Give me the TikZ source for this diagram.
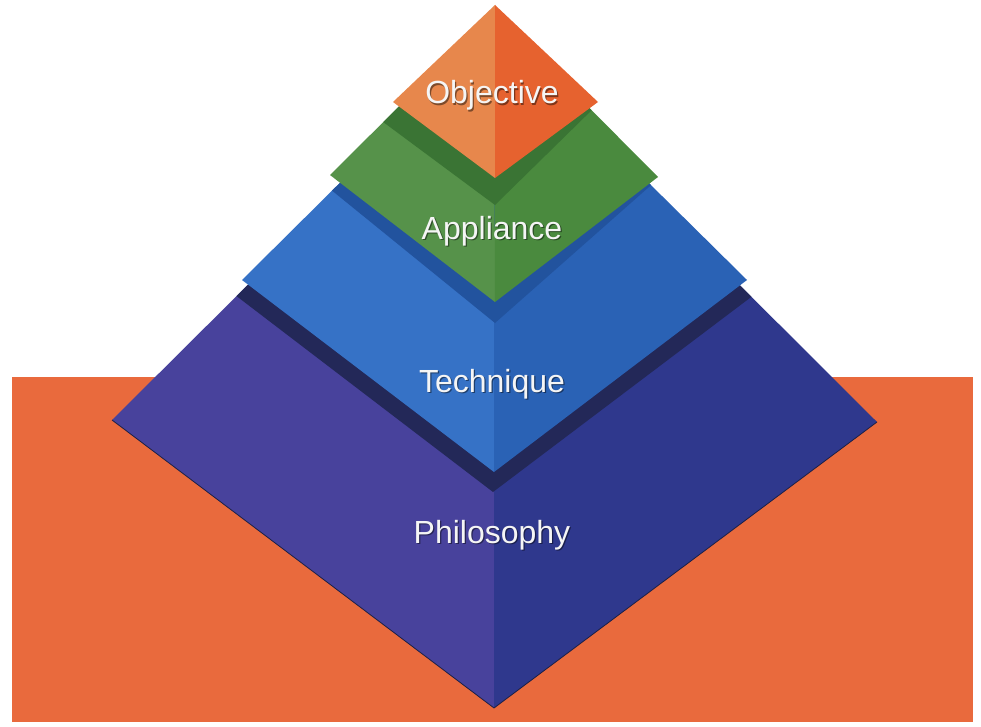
\documentclass[tikz,border=0pt]{standalone}
\usepackage{fontspec}
\newfontfamily\labfont{Liberation Sans}
\begin{document}
\begin{tikzpicture}[x=1bp,y=-1bp,
  lab/.style={anchor=base,text=white!96!black,font=\labfont\fontsize{32bp}{38bp}\selectfont,inner sep=0pt},
  labshadow/.style={anchor=base,text=black,opacity=0.45,font=\labfont\fontsize{32bp}{38bp}\selectfont,inner sep=0pt}]
\definecolor{orangebg}{HTML}{E96A3D}
\definecolor{objL}{HTML}{E7874C}
\definecolor{objR}{HTML}{E6622F}
\definecolor{appL}{HTML}{56924A}
\definecolor{appR}{HTML}{4A8A3E}
\definecolor{appS}{HTML}{3A7434}
\definecolor{tecL}{HTML}{3672C6}
\definecolor{tecR}{HTML}{2A62B5}
\definecolor{tecS}{HTML}{22539E}
\definecolor{phiL}{HTML}{48429C}
\definecolor{phiR}{HTML}{2F388D}
\definecolor{phiS}{HTML}{232858}

% canvas
\fill[white] (0,0) rectangle (981,727);
\useasboundingbox (0,0) rectangle (981,727);

% orange base panel
\fill[orangebg] (12,377) rectangle (973,722);

% ---- Philosophy (bottom tier)
\fill[phiL] (112,420) -- (494,40) -- (494,708) -- cycle;
\fill[phiR] (494,40) -- (877,422) -- (494,708) -- cycle;
\draw[phiS!80!black,line width=0.8bp,line join=round] (112,420) -- (494,708) -- (877,422);
\begin{scope}
  \clip (112,420) -- (494,40) -- (877,422) -- (494,708) -- cycle;
  \fill[phiS] (150,230) -- (493,492) -- (820,245) -- (820,0) -- (150,0) -- cycle;
\end{scope}

% ---- Technique
\fill[tecL] (242,280) -- (494,30) -- (494,472) -- cycle;
\fill[tecR] (494,30) -- (747,280) -- (494,472) -- cycle;
\begin{scope}
  \clip (242,280) -- (494,30) -- (747,280) -- (494,472) -- cycle;
  \fill[tecS] (250,124) -- (495,323) -- (658,179) -- (658,0) -- (250,0) -- cycle;
\end{scope}

% ---- Appliance
\fill[appL] (330,175) -- (494,12) -- (495,302) -- cycle;
\fill[appR] (494,12) -- (658,177) -- (495,302) -- cycle;
\begin{scope}
  \clip (330,175) -- (494,12) -- (658,177) -- (495,302) -- cycle;
  \fill[appS] (340,90) -- (495,205) -- (598,104) -- (598,0) -- (340,0) -- cycle;
\end{scope}

% ---- Objective (apex)
\fill[objL] (393,102) -- (495,5) -- (495,178) -- cycle;
\fill[objR] (495,5) -- (598,102) -- (495,178) -- cycle;

% ---- labels
\node[labshadow] (objS) at (493.2,105.2) {Objective};
\node[lab] (obj) at (492,104) {Objective};
\node[labshadow] (appSh) at (493.2,240.2) {Appliance};
\node[lab] (app) at (492,239) {Appliance};
\node[labshadow] (tecSh) at (493.2,393.2) {Technique};
\node[lab] (tec) at (492,392) {Technique};
\node[labshadow] (phiSh) at (493.2,544.2) {Philosophy};
\node[lab] (phi) at (492,543) {Philosophy};
\end{tikzpicture}
\end{document}
